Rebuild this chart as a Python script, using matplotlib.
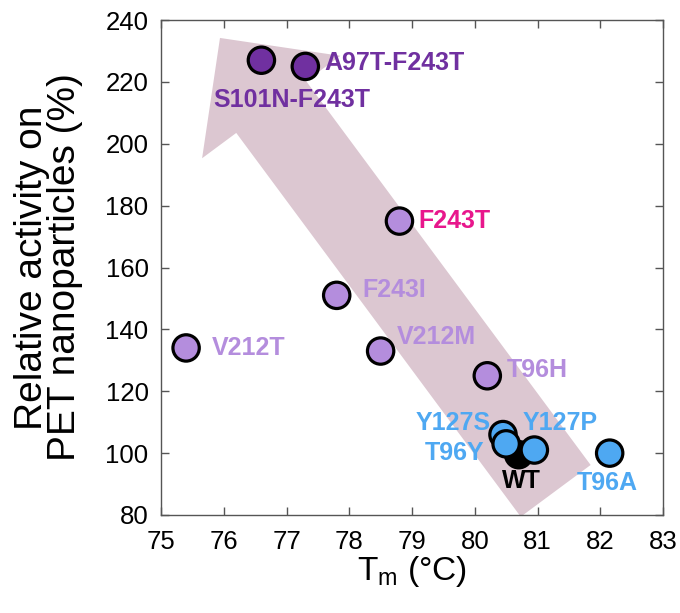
import matplotlib
matplotlib.use("Agg")
import matplotlib.pyplot as plt
from matplotlib.patches import Polygon
import numpy as np

plt.rcParams['font.family'] = ['Liberation Sans', 'DejaVu Sans']

# mutanti: ime, Tm, aktivnost
names = ["V212T", "F243I", "V212M", "F243T", "T96H", "S101N-F243T", "A97T-F243T",
         "WT", "Y127S", "T96Y", "Y127P", "T96A"]
tm = [75.4, 77.8, 78.5, 78.8, 80.2, 76.6, 77.3, 80.7, 80.45, 80.5, 80.95, 82.15]
act = [134, 151, 133, 175, 125, 227, 225, 99.5, 106, 103, 101, 100]

c_light = "#b48ddd"
c_dark = "#7030a0"
c_blue = "#4ea8f2"
point_colors = [c_light] * 5 + [c_dark] * 2 + ["black"] + [c_blue] * 4
label_colors = [c_light, c_light, c_light, "#e8178c", c_light, c_dark, c_dark,
                "black", c_blue, c_blue, c_blue, c_blue]
# pomaci natpisa u pikselima (dx, dy) i poravnanje
offsets = [(26, 0, "left"), (26, 5, "left"), (16, 14, "left"), (19, 0, "left"),
           (19, 6, "left"), (-48, -40, "left"), (19, 3, "left"),
           (3, -26, "center"), (-12, 12, "right"), (-22, -9, "right"),
           (-12, 27, "left"), (-2, -30, "center")]

fig = plt.figure(figsize=(6.8, 6.13), dpi=100)
ax = fig.add_axes([161 / 680, 98 / 613, 502 / 680, 495 / 613])
ax.set_xlim(75, 83)
ax.set_ylim(80, 240)

# velika strelica u pozadini
tail = ax.transData.transform((81.29, 87.8))
tip = ax.transData.transform((75.94, 234.2))
u = (tip - tail) / np.linalg.norm(tip - tail)
n = np.array([-u[1], u[0]])
head_len, head_half, shaft_half = 86, 86, 43.5
neck = tip - head_len * u
pts = [tail - shaft_half * n, neck - shaft_half * n, neck - head_half * n, tip,
       neck + head_half * n, neck + shaft_half * n, tail + shaft_half * n]
pts = ax.transData.inverted().transform(np.array(pts))
ax.add_patch(Polygon(pts, closed=True, facecolor="#dcc7d1", edgecolor="none", zorder=0))

ax.scatter(tm, act, s=360, c=point_colors, edgecolors="black", linewidths=2.3, zorder=3)

for name, x, y, col, (dx, dy, ha) in zip(names, tm, act, label_colors, offsets):
    ax.annotate(name, (x, y), xytext=(dx * 0.72, dy * 0.72), textcoords="offset points",
                ha=ha, va="center", color=col, fontsize=18, fontweight="bold", zorder=4)

ax.set_xticks(range(75, 84))
ax.set_yticks(range(80, 241, 20))
ax.tick_params(direction="in", top=True, right=True, length=6, width=1,
               labelsize=18.5, color="#555555")
ax.tick_params(axis="x", pad=11)
ax.tick_params(axis="y", pad=9)
for s in ax.spines.values():
    s.set_color("#555555")
    s.set_linewidth(1)

ax.set_xlabel(r"T$_\mathregular{m}$ (°C)", fontsize=24, labelpad=0)
ax.set_ylabel("Relative activity on\nPET nanoparticles (%)", fontsize=28,
              linespacing=0.9, labelpad=16)

plt.savefig("out.png", dpi=100)
